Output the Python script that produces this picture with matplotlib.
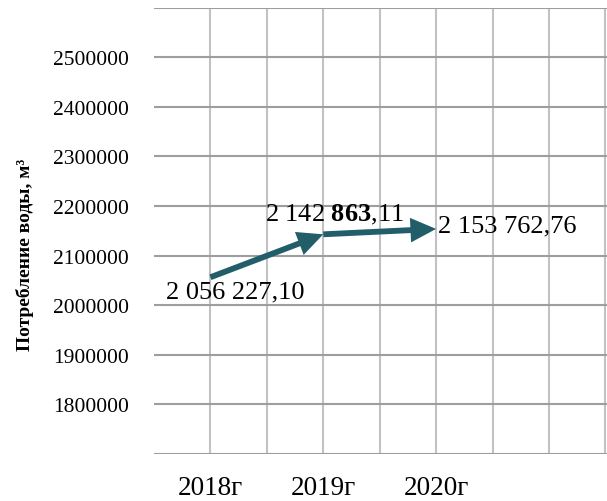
import numpy as np
import matplotlib.pyplot as plt
from matplotlib.patches import FancyArrowPatch

plt.rcParams['font.family'] = ['Liberation Serif', 'DejaVu Serif']
plt.rcParams['mathtext.fontset'] = 'custom'
plt.rcParams['mathtext.rm'] = 'Liberation Serif'
plt.rcParams['mathtext.bf'] = 'Liberation Serif:bold'

# water consumption by year
years = ["2018г", "2019г", "2020г"]
consumption = [2056227.10, 2142863.11, 2153762.76]
value_labels = ["2 056 227,10", "2 142 $\\mathbf{863}$,11", "2 153 762,76"]
y_ticks = [1700000, 1800000, 1900000, 2000000, 2100000, 2200000,
           2300000, 2400000, 2500000, 2600000]
y_tick_labels = [""] + [str(v) for v in y_ticks[1:-1]] + [""]

line_color = "#225E6A"

fig = plt.figure(figsize=(6.07, 5.02), dpi=100)
ax = fig.add_axes([0.2537, 0.094, 0.7455, 0.8886])

x = np.arange(1, len(years) + 1)

ax.set_xlim(0.5, 4.51)
ax.set_ylim(y_ticks[0], y_ticks[-1])

# arrows between consecutive years
for i in range(len(x) - 1):
    arr = FancyArrowPatch((x[i], consumption[i]), (x[i + 1], consumption[i + 1]),
                          arrowstyle="-|>,head_length=11.5,head_width=5.5",
                          mutation_scale=1, color=line_color, lw=4.2,
                          shrinkA=0, shrinkB=0, capstyle="butt",
                          joinstyle="miter", zorder=3)
    ax.add_patch(arr)

# value labels
offsets = [(18, -14.5), (8, 10), (1.5, -2)]
aligns = ["center", "center", "left"]
for xi, v, lab, off, ha in zip(x, consumption, value_labels, offsets, aligns):
    ax.annotate(lab, (xi, v), xytext=off, textcoords="offset points",
                ha=ha, va="baseline", fontsize=19, color="black", zorder=4)

ax.set_xticks(x)
ax.set_xticklabels(years, fontsize=19.5)
ax.set_xticks(np.arange(1.0, 4.51, 0.5), minor=True)
ax.set_yticks(y_ticks)
ax.set_yticklabels(y_tick_labels, fontsize=15.5)

ax.tick_params(axis="both", which="both", length=0)
ax.tick_params(axis="x", pad=15)
ax.tick_params(axis="y", pad=18)

ax.grid(axis="y", which="major", color="#9E9E9E", lw=1.5)
ax.grid(axis="x", which="both", color="#C2C2C2", lw=1.5)
ax.set_axisbelow(True)
for s in ax.spines.values():
    s.set_visible(False)

ax.set_ylabel("Потребление воды, м³", fontsize=14, fontweight="bold")
ax.yaxis.set_label_coords(-0.266, 0.448)

fig.savefig("out.png", dpi=100)
